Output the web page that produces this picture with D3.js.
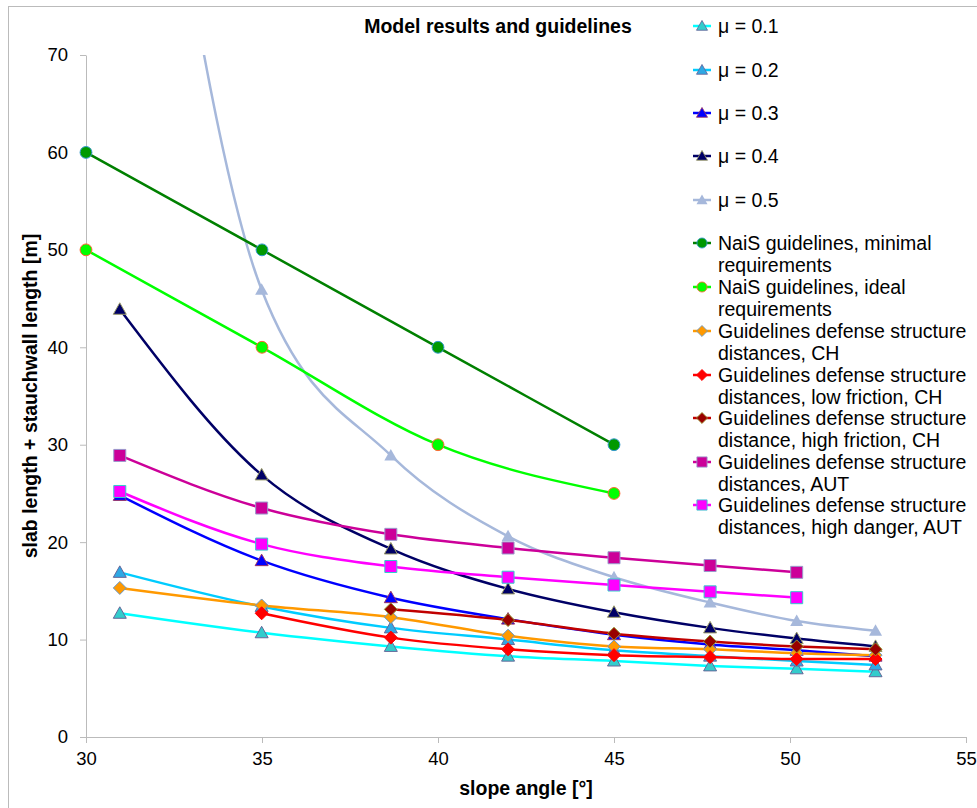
<!DOCTYPE html>
<html lang="en">
<head>
<meta charset="UTF-8">
<title>Model results and guidelines</title>
<script src="https://d3js.org/d3.v7.min.js"></script>
<style>
    body {
        margin: 0;
        background: #fff;
        font-family: 'Liberation Sans', Arial, sans-serif;
    }
    svg text { fill: #000; }
</style>
</head>
<body>
<svg id="chart" width="977" height="808"></svg>
<script>
    // slope angles of the model runs (tan = 0.6 ... 1.3)
    var modelAngles = [30.96, 34.99, 38.66, 41.99, 45.0, 47.73, 50.19, 52.43];
    var naisAngles = [30, 35, 40, 45];

    var mu01 = [12.7, 10.7, 9.3, 8.3, 7.8, 7.3, 7.0, 6.7];
    var mu02 = [16.9, 13.4, 11.2, 10.0, 8.9, 8.3, 7.8, 7.4];
    var mu03 = [24.8, 18.1, 14.3, 12.1, 10.5, 9.5, 8.9, 8.3];
    var mu04 = [43.9, 26.9, 19.3, 15.2, 12.8, 11.2, 10.1, 9.3];
    var mu05 = [125, 45.9, 28.9, 20.6, 16.4, 13.8, 11.9, 10.9];

    var naisMinimal = [60, 50, 40, 30];
    var naisIdeal = [50, 40, 30, 25];

    var chDistances = [15.3, 13.5, 12.3, 10.4, 9.3, 9.0, 8.6, 8.4];
    var chLowFriction = [null, 12.7, 10.2, 9.0, 8.4, 8.2, 8.0, 8.0];
    var chHighFriction = [null, null, 13.1, 12.0, 10.6, 9.8, 9.3, 9.0];
    var autDistances = [28.9, 23.5, 20.8, 19.4, 18.4, 17.6, 16.9];
    var autHighDanger = [25.2, 19.8, 17.5, 16.4, 15.6, 14.9, 14.3];

    var xTicks = [30, 35, 40, 45, 50, 55];
    var yTicks = [0, 10, 20, 30, 40, 50, 60, 70];

    var series = [
        {name: ['μ = 0.1'], xs: modelAngles, ys: mu01, line: '#00FFFF', fill: '#33CCCC', stroke: '#666699', shape: 'tri'},
        {name: ['μ = 0.2'], xs: modelAngles, ys: mu02, line: '#00CCFF', fill: '#2FA8E4', stroke: '#666699', shape: 'tri'},
        {name: ['μ = 0.3'], xs: modelAngles, ys: mu03, line: '#0000FF', fill: '#0000FF', stroke: '#993366', shape: 'tri'},
        {name: ['μ = 0.4'], xs: modelAngles, ys: mu04, line: '#000066', fill: '#000066', stroke: '#999966', shape: 'tri'},
        {name: ['μ = 0.5'], xs: modelAngles, ys: mu05, line: '#A6B8DB', fill: '#A6B8DB', stroke: 'none', shape: 'tri'},
        {name: ['NaiS guidelines, minimal', 'requirements'], xs: naisAngles, ys: naisMinimal, line: '#008000', fill: '#009900', stroke: '#3399CC', shape: 'circle'},
        {name: ['NaiS guidelines, ideal', 'requirements'], xs: naisAngles, ys: naisIdeal, line: '#00FF00', fill: '#00FF00', stroke: '#FF6633', shape: 'circle'},
        {name: ['Guidelines defense structure', 'distances, CH'], xs: modelAngles, ys: chDistances, line: '#FF9900', fill: '#FF9900', stroke: '#6699CC', shape: 'diamond'},
        {name: ['Guidelines defense structure', 'distances, low friction, CH'], xs: modelAngles, ys: chLowFriction, line: '#FF0000', fill: '#FF0000', stroke: '#FF0000', shape: 'diamond'},
        {name: ['Guidelines defense structure', 'distance, high friction, CH'], xs: modelAngles, ys: chHighFriction, line: '#C00000', fill: '#990000', stroke: '#999933', shape: 'diamond'},
        {name: ['Guidelines defense structure', 'distances, AUT'], xs: modelAngles, ys: autDistances, line: '#CC0099', fill: '#CC0099', stroke: '#9999CC', shape: 'square'},
        {name: ['Guidelines defense structure', 'distances, high danger, AUT'], xs: modelAngles, ys: autHighDanger, line: '#FF00FF', fill: '#FF00FF', stroke: '#33CCCC', shape: 'square'}
    ];

    var svg = d3.select('#chart');
    var plotLeft = 86, plotRight = 966, plotTop = 55, plotBottom = 737;

    var x = d3.scaleLinear().domain([30, 55]).range([plotLeft, plotRight]);
    var y = d3.scaleLinear().domain([0, 70]).range([plotBottom, plotTop]);

    // outer chart border
    svg.append('rect')
        .attr('x', 8.5).attr('y', 6.5)
        .attr('width', 1000).attr('height', 900)
        .attr('fill', 'none').attr('stroke', '#BBBBBB').attr('stroke-width', 1);

    svg.append('defs').append('clipPath').attr('id', 'plotClip')
        .append('rect').attr('x', 0).attr('y', plotTop).attr('width', 977).attr('height', 808 - plotTop);

    // axes
    var xAxis = svg.append('g')
        .attr('transform', 'translate(0,' + plotBottom + ')')
        .call(d3.axisBottom(x).tickValues(xTicks).tickSize(6).tickSizeOuter(0).tickPadding(9));
    var yAxis = svg.append('g')
        .attr('transform', 'translate(' + plotLeft + ',0)')
        .call(d3.axisLeft(y).tickValues(yTicks).tickSize(6).tickSizeOuter(0).tickPadding(12));

    [xAxis, yAxis].forEach(function (g) {
        g.selectAll('path, line').attr('stroke', '#BBBBBB');
        g.selectAll('text')
            .attr('font-family', "'Liberation Sans', Arial, sans-serif")
            .attr('font-size', 18.5).attr('fill', '#000');
    });

    function markerPath(shape) {
        if (shape === 'tri') return 'M0,-6.5L6.5,5L-6.5,5Z';
        if (shape === 'diamond') return 'M0,-6.5L6.5,0L0,6.5L-6.5,0Z';
        if (shape === 'square') return 'M-6,-6H6V6H-6Z';
        return d3.symbol(d3.symbolCircle, 110)();
    }

    var lineGen = d3.line()
        .defined(function (d) { return d[1] != null; })
        .x(function (d) { return x(d[0]); })
        .y(function (d) { return y(d[1]); })
        .curve(d3.curveMonotoneX);

    var plot = svg.append('g');

    series.forEach(function (s) {
        var pts = s.xs.map(function (v, i) { return [v, s.ys[i]]; })
            .filter(function (d) { return d[1] != null; });
        plot.append('path')
            .datum(pts)
            .attr('clip-path', 'url(#plotClip)')
            .attr('d', lineGen)
            .attr('fill', 'none')
            .attr('stroke', s.line)
            .attr('stroke-width', 2.5);
        plot.selectAll(null)
            .data(pts.filter(function (d) { return d[1] <= 70; }))
            .enter()
            .append('path')
            .attr('d', markerPath(s.shape))
            .attr('transform', function (d) { return 'translate(' + x(d[0]) + ',' + y(d[1]) + ')'; })
            .attr('fill', s.fill)
            .attr('stroke', s.stroke)
            .attr('stroke-width', 1);
    });

    // titles
    svg.append('text')
        .attr('x', 498).attr('y', 33)
        .attr('text-anchor', 'middle')
        .attr('font-size', 19.5).attr('font-weight', 'bold')
        .text('Model results and guidelines');

    svg.append('text')
        .attr('x', 526).attr('y', 795)
        .attr('text-anchor', 'middle')
        .attr('font-size', 19.5).attr('font-weight', 'bold')
        .text('slope angle [°]');

    svg.append('text')
        .attr('transform', 'translate(37,396) rotate(-90)')
        .attr('text-anchor', 'middle')
        .attr('font-size', 19.5).attr('font-weight', 'bold')
        .text('slab length + stauchwall length [m]');

    // legend
    var legendY = [26, 70, 113, 156, 200, 243, 287, 331, 375, 418, 462, 505];
    var legend = svg.append('g');
    series.forEach(function (s, i) {
        var g = legend.append('g').attr('transform', 'translate(0,' + legendY[i] + ')');
        g.append('line')
            .attr('x1', 693).attr('x2', 711).attr('y1', 0).attr('y2', 0)
            .attr('stroke', s.line).attr('stroke-width', 2.5);
        g.append('path')
            .attr('d', markerPath(s.shape))
            .attr('transform', 'translate(702,0) scale(0.85)')
            .attr('fill', s.fill).attr('stroke', s.stroke).attr('stroke-width', 1);
        s.name.forEach(function (t, j) {
            g.append('text')
                .attr('x', 718).attr('y', 7 + j * 22)
                .attr('font-size', 19.5)
                .text(t);
        });
    });
</script>
</body>
</html>
